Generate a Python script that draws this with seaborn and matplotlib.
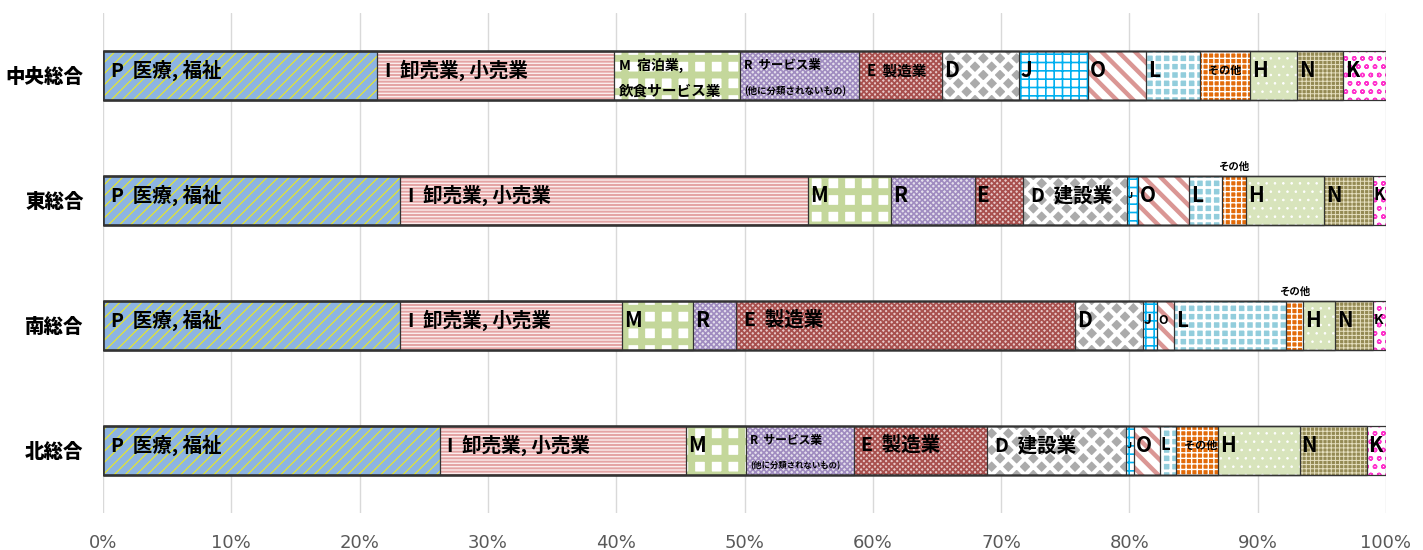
import numpy as np
import pandas as pd
import matplotlib
matplotlib.use("Agg")
import matplotlib.pyplot as plt
import seaborn as sns

# ---------------- data ----------------
regions = ["中央総合", "東総合", "南総合", "北総合"]
industries = ["P", "I", "M", "R", "E", "D", "J", "O", "L", "その他", "H", "N", "K"]

share_chuo = [21.36, 18.47, 9.82, 9.28, 6.47, 6.00, 5.38, 4.52, 4.21, 3.90, 3.66, 3.59, 3.34]
share_higashi = [23.15, 31.80, 6.47, 6.51, 3.78, 8.11, 0.82, 4.01, 2.57, 1.87, 6.08, 3.82, 1.02]
share_minami = [23.15, 17.30, 5.53, 3.39, 26.38, 5.30, 1.14, 1.28, 8.73, 1.33, 2.49, 2.96, 1.02]
share_kita = [26.24, 19.20, 4.64, 8.43, 10.40, 10.83, 0.62, 2.03, 1.25, 3.27, 6.35, 5.26, 1.48]

labels_chuo = ["P  医療, 福祉", "I  卸売業, 小売業", "M  宿泊業,\n飲食サービス業",
               "R  サービス業\n(他に分類されないもの)", "E  製造業", "D", "J", "O", "L",
               "その他", "H", "N", "K"]
labels_higashi = ["P  医療, 福祉", "I  卸売業, 小売業", "M", "R", "E", "D  建設業", "J", "O",
                  "L", "その他", "H", "N", "K"]
labels_minami = ["P  医療, 福祉", "I  卸売業, 小売業", "M", "R", "E  製造業", "D", "J", "O",
                 "L", "その他", "H", "N", "K"]
labels_kita = ["P  医療, 福祉", "I  卸売業, 小売業", "M", "R  サービス業\n(他に分類されないもの)",
               "E  製造業", "D  建設業", "J", "O", "L", "その他", "H", "N", "K"]

xtick_values = [0, 10, 20, 30, 40, 50, 60, 70, 80, 90, 100]
xtick_labels = ["0%", "10%", "20%", "30%", "40%", "50%", "60%", "70%", "80%", "90%", "100%"]

shares = [share_chuo, share_higashi, share_minami, share_kita]
labels = [labels_chuo, labels_higashi, labels_minami, labels_kita]

# ---------------- styles ----------------
# industry: (facecolor, hatch colour, hatch, hatch linewidth)
styles = {
    "P":   ("#8DB4E2", "#EAEA20", "///", 0.8),
    "I":   ("#FBEDED", "#E4A4A4", "-----", 1.4),
    "M":   ("#FFFFFF", "#C4D79B", "+", 5.0),
    "R":   ("#E4DFEC", "#A08CC0", "xxxxxx", 1.2),
    "E":   ("#E8C8C8", "#A8504E", "xxxxxx", 1.3),
    "D":   ("#ABABAB", "#FFFFFF", "xx", 3.0),
    "J":   ("#FFFFFF", "#00B0F0", "++", 1.2),
    "O":   ("#FFFFFF", "#DA9694", "\\\\", 3.2),
    "L":   ("#92CDDC", "#FFFFFF", "++", 2.0),
    "その他": ("#E26B0A", "#FFFFFF", "+++", 1.0),
    "H":   ("#D8E4BC", "#FFFFFF", "..", 0.6),
    "N":   ("#948A54", "#E6E0C0", "++++", 0.7),
    "K":   ("#FFFFFF", "#FF33CC", "oo", 1.0),
}

# per-label font size overrides (region, industry) -> size(s)
size_override = {
    ("中央総合", "M"): (10.0, 10.5),
    ("中央総合", "R"): (9.0, 6.8),
    ("北総合", "R"): (8.5, 6.0),
    ("中央総合", "E"): 10.5,
    ("中央総合", "その他"): 8.0,
    ("北総合", "その他"): 8.0,
    ("東総合", "J"): 6.5,
    ("北総合", "J"): 6.5,
    ("南総合", "J"): 10.0,
    ("南総合", "O"): 9.0,
    ("南総合", "K"): 10.0,
    ("東総合", "K"): 12.0,
    ("北総合", "L"): 12.0,
    ("東総合", "その他"): 7.5,
    ("南総合", "その他"): 7.5,
}
above_bar = {("東総合", "その他"), ("南総合", "その他")}

# ---------------- figure ----------------
sns.set_theme(style="white")
cjk = ["Noto Sans CJK JP", "DejaVu Sans"]
plt.rcParams["font.family"] = cjk

fig = plt.figure(figsize=(14.23, 5.5), dpi=100)
ax = fig.add_axes([103 / 1423, 1 - 513 / 550, 1283 / 1423, 500.3 / 550])

share_arr = np.array(shares)
cum = np.cumsum(share_arr, axis=1)
bar_w = 0.39

# draw cumulative bars from the longest to the shortest so each visible piece is one segment
for k in range(len(industries) - 1, -1, -1):
    ind = industries[k]
    fc, hc, hatch, hlw = styles[ind]
    plt.rcParams["hatch.linewidth"] = hlw
    df = pd.DataFrame({"region": regions, "value": cum[:, k]})
    n_before = len(ax.patches)
    sns.barplot(data=df, x="value", y="region", orient="h", color=fc, saturation=1,
                width=bar_w, errorbar=None, edgecolor=hc, linewidth=0, hatch=hatch, ax=ax)
    for p in ax.patches[n_before:]:
        if hasattr(p, "set_hatch_linewidth"):
            p.set_hatch_linewidth(hlw)

# outlines of segments
for k in range(len(industries)):
    df = pd.DataFrame({"region": regions, "value": cum[:, k]})
    sns.barplot(data=df, x="value", y="region", orient="h", fill=False, width=bar_w,
                errorbar=None, edgecolor="#333333", linewidth=0.9, ax=ax)

# ---------------- labels inside the bars ----------------
for r, reg in enumerate(regions):
    starts = np.concatenate([[0], cum[r, :-1]])
    for k, ind in enumerate(industries):
        txt = labels[r][k]
        if not txt:
            continue
        x0 = starts[k]
        key = (reg, ind)
        if key in above_bar:
            ax.text(x0 + share_arr[r, k] / 2, r - bar_w / 2 - 0.03, txt, ha="center",
                    va="bottom", fontsize=size_override.get(key, 7), fontweight="bold",
                    color="black", family=cjk)
            continue
        if "\n" in txt:
            l1, l2 = txt.split("\n")
            s1, s2 = size_override.get(key, (9, 7))
            ax.text(x0 + 0.35, r - 0.08, l1, ha="left", va="center", fontsize=s1,
                    fontweight="bold", color="black", family=cjk)
            ax.text(x0 + 0.35, r + 0.12, l2, ha="left", va="center", fontsize=s2,
                    fontweight="bold", color="black", family=cjk)
            continue
        if len(txt) == 1:
            default = 15.0
        else:
            default = 14.0
        size = size_override.get(key, default)
        off = 0.6 if len(txt) > 1 else 0.15
        if share_arr[r, k] < 1.5:
            off = 0.05
        ax.text(x0 + off, r - 0.04, txt, ha="left", va="center", fontsize=size,
                fontweight="bold", color="black", family=cjk)

# ---------------- axes cosmetics ----------------
ax.set_xlim(0, 100)
ax.set_ylim(3.5, -0.5)
ax.set_xticks(xtick_values)
ax.set_xticklabels(xtick_labels)
ax.set_xlabel("")
ax.set_ylabel("")
ax.grid(axis="x", color="#D9D9D9", linewidth=1.0)
ax.grid(axis="y", visible=False)
ax.set_axisbelow(True)
for s in ax.spines.values():
    s.set_visible(False)
ax.tick_params(axis="x", length=0, pad=15, labelsize=13, labelcolor="#595959")
ax.tick_params(axis="y", length=0, pad=14, labelsize=14, labelcolor="black")
for t in ax.get_xticklabels():
    t.set_family(["Liberation Sans Narrow", "DejaVu Sans"])
for t in ax.get_yticklabels():
    t.set_fontweight("black")
    t.set_family(cjk)

fig.savefig("out.png", dpi=100)
